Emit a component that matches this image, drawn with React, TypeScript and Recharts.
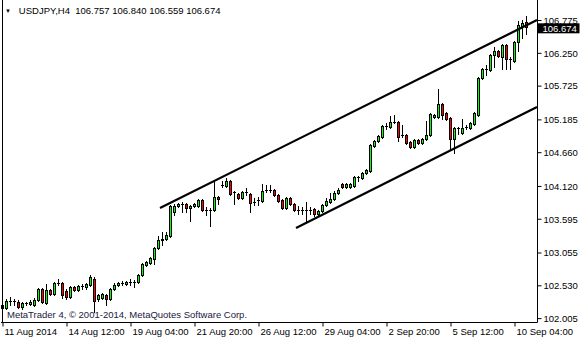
import React from 'react';
import { ComposedChart, Bar, XAxis, YAxis, ReferenceLine } from 'recharts';

// USDJPY H4 candles
const opens = [
  102.175, 102.175, 102.287, 102.287, 102.271, 102.191, 102.255, 102.239, 102.223, 102.303,
  102.479, 102.255, 102.463, 102.399, 102.575, 102.575, 102.447, 102.351, 102.511, 102.463,
  102.527, 102.511, 102.543, 102.639, 102.319, 102.335, 102.383, 102.319, 102.479, 102.543,
  102.575, 102.559, 102.591, 102.591, 102.591, 102.703, 102.863, 102.895, 102.959, 103.135,
  103.263, 103.279, 103.327, 103.711, 103.807, 103.839, 103.839, 103.775, 103.807, 103.807,
  103.903, 103.743, 103.743, 103.743, 103.951, 104.143, 104.127, 104.207, 104.031, 103.999,
  103.935, 104.031, 103.999, 103.871, 103.903, 103.887, 104.063, 104.063, 104.063, 103.983,
  103.903, 103.775, 103.935, 103.839, 103.743, 103.743, 103.743, 103.743, 103.759, 103.679,
  103.727, 103.823, 103.871, 103.919, 104.015, 104.159, 104.111, 104.111, 104.127, 104.271,
  104.255, 104.335, 104.367, 104.767, 104.847, 104.911, 105.087, 105.071, 105.151, 105.151,
  104.943, 104.943, 104.831, 104.751, 104.863, 104.815, 104.879, 104.943, 105.231, 105.231,
  105.439, 105.295, 105.215, 104.879, 105.055, 104.975, 105.071, 105.055, 105.119, 105.263,
  105.855, 105.999, 105.983, 106.223, 106.287, 106.191, 106.383, 106.159, 106.127, 106.431,
  106.687, 106.757,
];
const highs = [
  102.255, 102.319, 102.351, 102.319, 102.303, 102.271, 102.271, 102.303, 102.335, 102.495,
  102.495, 102.559, 102.479, 102.591, 102.639, 102.591, 102.479, 102.527, 102.527, 102.543,
  102.559, 102.575, 102.703, 102.671, 102.399, 102.415, 102.399, 102.495, 102.575, 102.591,
  102.607, 102.607, 102.639, 102.623, 102.719, 102.895, 102.927, 102.991, 103.151, 103.327,
  103.391, 103.391, 103.823, 103.839, 103.855, 103.871, 103.855, 103.823, 103.855, 103.919,
  103.919, 103.791, 103.775, 104.223, 103.967, 104.207, 104.255, 104.223, 104.047, 104.015,
  104.047, 104.095, 104.015, 103.935, 103.951, 104.159, 104.143, 104.143, 104.079, 103.999,
  103.919, 103.951, 103.951, 103.855, 103.807, 103.791, 103.871, 103.791, 103.775, 103.743,
  103.839, 103.935, 104.015, 104.047, 104.095, 104.175, 104.175, 104.175, 104.287, 104.287,
  104.351, 104.399, 104.799, 104.863, 104.943, 105.103, 105.135, 105.247, 105.263, 105.167,
  105.103, 104.959, 104.847, 104.879, 104.879, 104.895, 105.167, 105.295, 105.279, 105.679,
  105.455, 105.311, 105.231, 105.071, 105.071, 105.199, 105.103, 105.151, 105.311, 105.871,
  106.015, 106.063, 106.239, 106.351, 106.303, 106.399, 106.399, 106.191, 106.447, 106.767,
  106.783, 106.840,
];
const lows = [
  102.143, 102.159, 102.223, 102.223, 102.175, 102.159, 102.223, 102.223, 102.207, 102.287,
  102.255, 102.239, 102.383, 102.383, 102.543, 102.335, 102.319, 102.335, 102.447, 102.447,
  102.479, 102.479, 102.527, 102.111, 102.287, 102.319, 102.223, 102.303, 102.463, 102.527,
  102.543, 102.543, 102.543, 102.511, 102.575, 102.687, 102.847, 102.879, 102.879, 103.119,
  103.183, 103.263, 103.311, 103.663, 103.791, 103.711, 103.711, 103.567, 103.791, 103.791,
  103.727, 103.663, 103.487, 103.727, 103.839, 104.111, 104.111, 103.983, 103.839, 103.919,
  103.919, 103.983, 103.711, 103.823, 103.823, 103.871, 104.031, 104.031, 103.967, 103.871,
  103.759, 103.759, 103.823, 103.727, 103.679, 103.679, 103.551, 103.679, 103.647, 103.647,
  103.711, 103.807, 103.855, 103.903, 103.999, 104.095, 104.095, 104.095, 104.111, 104.207,
  104.239, 104.319, 104.351, 104.751, 104.831, 104.895, 105.039, 105.055, 105.135, 104.847,
  104.911, 104.799, 104.735, 104.735, 104.799, 104.799, 104.863, 104.927, 105.215, 105.215,
  105.199, 105.183, 104.719, 104.655, 104.959, 104.959, 105.039, 105.039, 105.103, 105.247,
  105.839, 105.903, 105.967, 106.031, 106.191, 105.999, 105.999, 105.999, 106.111, 106.287,
  106.495, 106.559,
];
const closes = [
  102.223, 102.287, 102.287, 102.287, 102.191, 102.255, 102.255, 102.271, 102.303, 102.479,
  102.271, 102.463, 102.399, 102.575, 102.575, 102.383, 102.351, 102.511, 102.463, 102.527,
  102.527, 102.559, 102.671, 102.287, 102.383, 102.399, 102.319, 102.479, 102.543, 102.575,
  102.575, 102.591, 102.591, 102.591, 102.703, 102.879, 102.911, 102.975, 103.135, 103.263,
  103.279, 103.343, 103.807, 103.807, 103.839, 103.839, 103.775, 103.807, 103.839, 103.903,
  103.743, 103.743, 103.743, 103.951, 103.919, 104.143, 104.207, 103.999, 104.031, 103.935,
  104.031, 104.031, 103.855, 103.871, 103.903, 104.047, 104.063, 104.063, 103.983, 103.887,
  103.775, 103.935, 103.839, 103.743, 103.743, 103.743, 103.743, 103.743, 103.679, 103.727,
  103.823, 103.887, 103.919, 104.015, 104.063, 104.111, 104.159, 104.159, 104.271, 104.271,
  104.335, 104.383, 104.783, 104.847, 104.927, 105.087, 105.087, 105.151, 105.151, 104.911,
  104.943, 104.815, 104.751, 104.863, 104.815, 104.879, 104.943, 105.279, 105.263, 105.439,
  105.263, 105.199, 104.879, 105.055, 105.055, 105.055, 105.071, 105.135, 105.295, 105.855,
  105.999, 105.999, 106.223, 106.287, 106.207, 106.383, 106.159, 106.159, 106.431, 106.703,
  106.735, 106.674,
];

const tickBars = [0, 16, 32, 48, 64, 80, 96, 112, 128];
const tickLabels = [
  '11 Aug 2014', '14 Aug 12:00', '19 Aug 04:00', '21 Aug 20:00', '26 Aug 12:00',
  '29 Aug 04:00', '2 Sep 20:00', '5 Sep 12:00', '10 Sep 04:00',
];
const priceTicks = [102.005, 102.53, 103.055, 103.595, 104.12, 104.66, 105.185, 105.725, 106.25, 106.775];
const upperChannel = [{ bar: 39.25, price: 103.775 }, { bar: 133.5, price: 106.783 }];
const lowerChannel = [{ bar: 73.25, price: 103.455 }, { bar: 133.5, price: 105.391 }];
const lastPrice = 106.674;
const headerText = 'USDJPY,H4  106.757 106.840 106.559 106.674';
const footerText = 'MetaTrader 4, \u00A9 2001-2014, MetaQuotes Software Corp.';

const data = opens.map((o, i) => ({ i, open: o, high: highs[i], low: lows[i], close: closes[i] }));

const FONT = '"Liberation Sans", Arial, sans-serif';
const BULL = '#00ff00';
const BEAR = '#ff0000';

const Candle = (props: any) => {
  const { x, y, width, height, payload } = props;
  if (!payload || x == null || y == null) return null;
  const { open, high, low, close } = payload;
  const range = high - low;
  const k = range > 0 ? height / range : 0;
  const py = (p: number) => y + (high - p) * k;
  const c = Math.floor(x + width / 2);
  const wx = c + 0.5;
  const hiRow = Math.round(py(high));
  const loRow = Math.round(py(low));
  const top = Math.round(py(Math.max(open, close)));
  const bot = Math.round(py(Math.min(open, close)));
  const up = close > open;
  return (
    <g>
      <line x1={wx} x2={wx} y1={hiRow} y2={loRow + 1} stroke="#000" strokeWidth={1} />
      {bot - top < 1 ? (
        <line x1={c - 1} x2={c + 2} y1={top + 0.5} y2={top + 0.5} stroke="#000" strokeWidth={1} />
      ) : (
        <rect
          x={c - 0.5}
          y={top + 0.5}
          width={2}
          height={bot - top}
          fill={up ? BULL : BEAR}
          stroke="#000"
          strokeWidth={1}
        />
      )}
    </g>
  );
};

const XTick = (props: any) => {
  const { x, y, payload } = props;
  const idx = tickBars.indexOf(payload.value);
  return (
    <text x={x + 1.5} y={y + 6.5} textAnchor="start" fontSize={9.5} fontFamily={FONT} fill="#000">
      {idx >= 0 ? tickLabels[idx] : ''}
    </text>
  );
};

const PriceTag = (props: any) => {
  const vb = props.viewBox;
  if (!vb) return null;
  const left = vb.x + vb.width;
  const cy = vb.y + 1.5;
  return (
    <g>
      <rect x={left} y={cy - 5} width={42} height={10} fill="#000" />
      <text x={left + 5} y={cy + 3.5} fontSize={9.5} fontFamily={FONT} fill="#fff">
        {lastPrice.toFixed(3)}
      </text>
    </g>
  );
};

export default function App() {
  return (
    <div style={{ position: 'absolute', left: 0, top: 0, width: 580, height: 340, background: '#fff' }}>
      <ComposedChart
        width={580}
        height={340}
        data={data}
        margin={{ top: 0, right: 0, bottom: 0, left: 1 }}
        barCategoryGap={0}
        barGap={0}
      >
        <XAxis
          xAxisId="c"
          dataKey="i"
          type="category"
          ticks={tickBars}
          interval={0}
          padding={{ left: 0, right: 8.5 }}
          height={17.5}
          tickSize={4}
          axisLine={{ stroke: '#000' }}
          tickLine={{ stroke: '#000' }}
          tick={<XTick />}
        />
        <XAxis xAxisId="n" dataKey="i" type="number" domain={[-0.5, 133.625]} allowDataOverflow hide />
        <YAxis
          yAxisId="p"
          orientation="right"
          width={42.5}
          type="number"
          domain={[101.943, 107.103]}
          ticks={priceTicks}
          interval={0}
          allowDataOverflow
          tickSize={4}
          tickMargin={2}
          tickFormatter={(v: number) => v.toFixed(3)}
          tick={{ fontSize: 9.5, fill: '#000', fontFamily: FONT }}
          axisLine={{ stroke: '#000' }}
          tickLine={{ stroke: '#000' }}
        />
        <Bar
          xAxisId="c"
          yAxisId="p"
          dataKey={(d: any) => [d.low, d.high]}
          barSize={4}
          shape={<Candle />}
          isAnimationActive={false}
        />
        <ReferenceLine xAxisId="n" yAxisId="p" x={-0.125} stroke="#000" strokeWidth={1} ifOverflow="visible" />
        <ReferenceLine
          xAxisId="n"
          yAxisId="p"
          segment={[
            { x: upperChannel[0].bar, y: upperChannel[0].price },
            { x: upperChannel[1].bar, y: upperChannel[1].price },
          ]}
          stroke="#000"
          strokeWidth={2.2}
          ifOverflow="visible"
        />
        <ReferenceLine
          xAxisId="n"
          yAxisId="p"
          segment={[
            { x: lowerChannel[0].bar, y: lowerChannel[0].price },
            { x: lowerChannel[1].bar, y: lowerChannel[1].price },
          ]}
          stroke="#000"
          strokeWidth={2.2}
          ifOverflow="visible"
        />
        <ReferenceLine
          xAxisId="c"
          yAxisId="p"
          y={lastPrice}
          stroke="none"
          ifOverflow="visible"
          label={<PriceTag />}
        />
      </ComposedChart>
      <div
        style={{
          position: 'absolute', left: 5, top: 5, fontFamily: FONT, fontSize: 9.5,
          color: '#000', whiteSpace: 'pre', lineHeight: '12px',
        }}
      >
        <span style={{ fontSize: 6, verticalAlign: 'middle' }}>{'\u25BC'}</span>
        {'   ' + headerText}
      </div>
      <div
        style={{
          position: 'absolute', left: 7, top: 309, fontFamily: FONT, fontSize: 9.5,
          color: '#202040', whiteSpace: 'pre', lineHeight: '12px',
        }}
      >
        {footerText}
      </div>
    </div>
  );
}
